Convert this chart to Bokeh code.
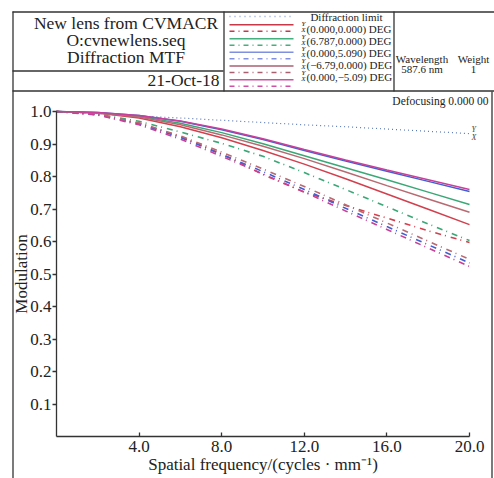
from bokeh.plotting import figure
from bokeh.models import Range1d, FixedTicker, CustomJSTickFormatter
from bokeh.core.properties import value
from bokeh.embed import file_html
from bokeh.resources import INLINE

# ---------------- data ----------------
freq = [0, 2, 4, 6, 8, 10, 12, 14, 16, 18, 20]
diff_limit = [1.000, 0.993, 0.986, 0.980, 0.973, 0.966, 0.959, 0.953, 0.946, 0.939, 0.932]
t_000_000 = [1.000, 0.995, 0.980, 0.953, 0.919, 0.880, 0.838, 0.793, 0.746, 0.699, 0.652]
s_000_000 = [1.000, 0.990, 0.964, 0.923, 0.869, 0.806, 0.752, 0.711, 0.672, 0.633, 0.597]
t_6787_000 = [1.000, 0.996, 0.985, 0.964, 0.935, 0.901, 0.864, 0.827, 0.790, 0.752, 0.714]
s_6787_000 = [1.000, 0.992, 0.970, 0.937, 0.902, 0.862, 0.812, 0.760, 0.707, 0.654, 0.603]
t_000_5090 = [1.000, 0.997, 0.988, 0.970, 0.944, 0.914, 0.880, 0.848, 0.816, 0.785, 0.754]
s_000_5090 = [1.000, 0.990, 0.962, 0.920, 0.868, 0.815, 0.760, 0.702, 0.646, 0.590, 0.534]
t_m679_000 = [1.000, 0.995, 0.983, 0.959, 0.928, 0.893, 0.855, 0.814, 0.772, 0.731, 0.690]
s_m679_000 = [1.000, 0.991, 0.965, 0.925, 0.875, 0.823, 0.769, 0.713, 0.657, 0.601, 0.545]
t_000_m509 = [1.000, 0.997, 0.988, 0.971, 0.946, 0.916, 0.883, 0.851, 0.820, 0.790, 0.760]
s_000_m509 = [1.000, 0.989, 0.959, 0.915, 0.862, 0.808, 0.752, 0.694, 0.637, 0.580, 0.523]

field_labels = ["(0.000,0.000) DEG", "(6.787,0.000) DEG", "(0.000,5.090) DEG",
                "(\u22126.79,0.000) DEG", "(0.000,\u22125.09) DEG"]
x_ticks = [4, 8, 12, 16, 20]
y_ticks = [0.1, 0.2, 0.3, 0.4, 0.5, 0.6, 0.7, 0.8, 0.9, 1.0]

# ---------------- styles ----------------
FONT = "Liberation Serif"
INK = "#333333"
TXT = "#222222"
colors = ["#d2404e", "#3aa876", "#4060d0", "#b86a72", "#c8409a"]
legend_colors = ["#c83848", "#45b07e", "#8090e0", "#a86070", "#d050a8"]
DASH = "6 4 1 5"

# Layout: the frame fills the whole canvas; the chart's plotting area
# (0..20, 0..1) occupies page x 56..469 and page y 436..111.
W, H = 494, 478
FX0, FX1, FY0, FY1 = 56.0, 469.0, 436.0, 111.0

def X(xp):
    return (xp - FX0) * 20.0 / (FX1 - FX0)

def Y(yp):
    return (FY0 - yp) / (FY0 - FY1)

p = figure(width=W, height=H, x_range=Range1d(X(0), X(W)), y_range=Range1d(Y(H), Y(0)),
           toolbar_location=None, output_backend="svg", min_border=0,
           outline_line_color=None, background_fill_color="white")
p.xgrid.visible = False
p.ygrid.visible = False

# ---------------- curves ----------------
p.line(freq, diff_limit, line_color="#5a7ab8", line_width=1.2, line_dash="1 3")
series_t = [t_000_000, t_6787_000, t_000_5090, t_m679_000, t_000_m509]
series_s = [s_000_000, s_6787_000, s_000_5090, s_m679_000, s_000_m509]
for i in range(5):
    p.line(freq, series_s[i], line_color=colors[i], line_width=1.6, line_dash=DASH)
for i in range(5):
    p.line(freq, series_t[i], line_color=colors[i], line_width=1.5)

# ---------------- axes (fixed at the data origin) ----------------
p.xaxis.fixed_location = 0
p.yaxis.fixed_location = 0
p.xaxis.bounds = (0, 20)
p.yaxis.bounds = (0, 1)
p.xaxis.ticker = FixedTicker(ticks=x_ticks)
p.yaxis.ticker = FixedTicker(ticks=y_ticks)
p.xaxis.formatter = CustomJSTickFormatter(code="return tick.toFixed(1);")
p.yaxis.formatter = CustomJSTickFormatter(code="return tick.toFixed(1);")
for ax in (p.xaxis, p.yaxis):
    ax.axis_line_color = INK
    ax.axis_line_width = 1.3
    ax.major_tick_line_color = INK
    ax.major_tick_line_width = 1.3
    ax.minor_tick_line_color = None
    ax.major_label_text_font = FONT
    ax.major_label_text_font_size = "17px"
    ax.major_label_text_color = TXT
    ax.axis_label_text_font = FONT
    ax.axis_label_text_font_size = "17px"
    ax.axis_label_text_font_style = "normal"
    ax.axis_label_text_color = TXT
p.xaxis.major_tick_in = 4
p.xaxis.major_tick_out = 0
p.yaxis.major_tick_in = 0
p.yaxis.major_tick_out = 4
p.xaxis.major_label_standoff = 4
p.yaxis.major_label_standoff = 1
p.xaxis.axis_label = "Spatial frequency/(cycles \u00b7 mm\u207b\u00b9)"
p.yaxis.axis_label = "Modulation"
p.xaxis.axis_label_standoff = 0
p.yaxis.axis_label_standoff = -4

# ---------------- header and frame boxes ----------------
bx0 = [12, 12.5, 491.5, 12, 223.5, 393.5, 12]
by0 = [11.5, 11, 91, 70.5, 11, 11, 90.5]
bx1 = [500, 12.5, 491.5, 223, 223.5, 393.5, 500]
by1 = [11.5, 490, 490, 70.5, 91, 91, 90.5]
p.segment(x0=[X(v) for v in bx0], y0=[Y(v) for v in by0],
          x1=[X(v) for v in bx1], y1=[Y(v) for v in by1],
          line_color=INK, line_width=1.3)

def txt(xs, ys, texts, size=11.5, align="left", style="normal", color=TXT):
    # ys are the intended baselines in page pixels; the SVG text baseline sits ~0.4em lower
    p.text(x=[X(v) for v in xs], y=[Y(v - 0.4 * size) for v in ys], text=texts,
           text_font=value(FONT), text_font_size=f"{size}px", text_align=align,
           text_baseline="alphabetic", text_font_style=style, text_color=color)

txt([125.5, 125.5, 125.5], [29, 46.5, 63],
    ["New lens from CVMACR", "O:cvnewlens.seq", "Diffraction MTF"], size=17.5, align="center")
txt([219], [86], ["21-Oct-18"], size=17.5, align="right")

# legend
p.line([X(229), X(293)], [Y(16), Y(16)], line_color="#8aa0d8", line_width=1.3, line_dash="1 4")
txt([346], [20.5], ["Diffraction limit"], size=11, align="center")
solid_y = [24.3, 38.2, 51.8, 65.6, 79.3]
text_y = [32.7, 45, 57, 69, 81]
for i in range(5):
    p.line([X(229), X(293)], [Y(solid_y[i])] * 2, line_color=legend_colors[i], line_width=1.5)
    p.line([X(229), X(293)], [Y(solid_y[i] + 6.5)] * 2, line_color=legend_colors[i],
           line_width=1.5, line_dash="5 4 1 4")
    txt([306], [text_y[i]], [field_labels[i]], size=11)
    txt([305, 305], [text_y[i] - 6, text_y[i]], ["Y", "X"], size=7, align="right", style="italic")

txt([421.5, 473], [63, 63], ["Wavelength", "Weight"], size=11, align="center")
txt([421.5, 473], [73, 73], ["587.6 nm", "1"], size=11, align="center")

txt([488], [105], ["Defocusing 0.000 00"], size=11.5, align="right")
txt([471, 471], [132, 140], ["Y", "X"], size=8, style="italic", color="#444444")

open("out.html", "w").write(file_html(p, INLINE))
